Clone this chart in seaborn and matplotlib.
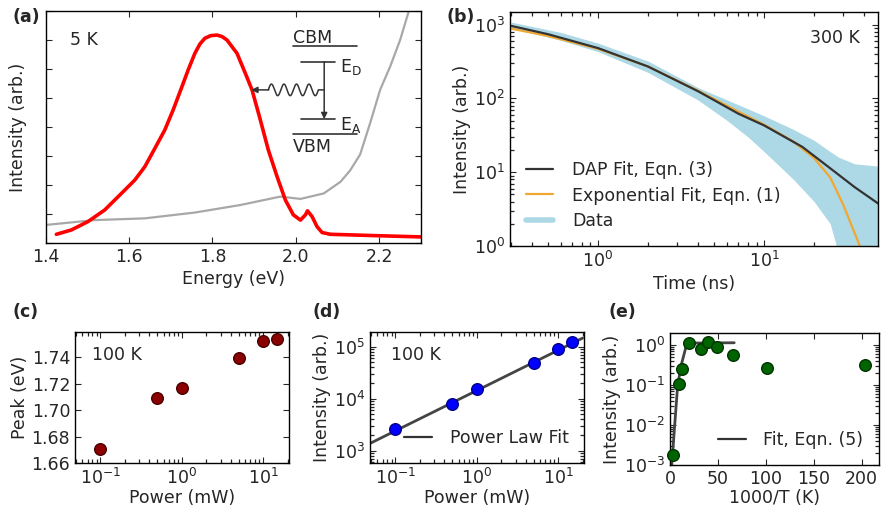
import numpy as np
import matplotlib.pyplot as plt
from matplotlib.lines import Line2D
from matplotlib.ticker import FixedLocator, NullFormatter
import seaborn as sns

# (a) PL spectrum at 5 K and absorption background
pl_energy = [1.426, 1.462, 1.502, 1.542, 1.582, 1.614, 1.638, 1.662, 1.686, 1.706,
             1.727, 1.742, 1.758, 1.770, 1.782, 1.796, 1.811, 1.823, 1.835, 1.859,
             1.879, 1.895, 1.915, 1.934, 1.955, 1.975, 1.994, 2.011, 2.023, 2.028,
             2.039, 2.051, 2.063, 2.083, 2.107, 2.200, 2.300]
pl_intensity = [0.30, 0.45, 0.74, 1.14, 1.71, 2.17, 2.63, 3.26, 3.90, 4.59,
                5.39, 5.97, 6.54, 6.86, 7.06, 7.15, 7.17, 7.12, 7.00, 6.54,
                5.85, 5.28, 4.24, 3.21, 2.29, 1.48, 0.97, 0.79, 0.97, 1.11,
                0.91, 0.56, 0.36, 0.30, 0.29, 0.25, 0.21]
abs_energy = [1.399, 1.518, 1.638, 1.758, 1.867, 1.963, 2.011, 2.067, 2.107, 2.130,
              2.154, 2.178, 2.202, 2.226, 2.250, 2.274]
abs_intensity = [0.62, 0.79, 0.85, 1.05, 1.31, 1.60, 1.52, 1.71, 2.11, 2.50,
                 3.05, 4.13, 5.28, 6.08, 7.00, 8.15]

# (b) time resolved PL at 300 K
dap_time = [0.3, 0.5, 1, 2, 4, 7, 10, 17, 25, 35, 50]
dap_fit = [960, 740, 480, 270, 125, 62, 43, 22, 11.3, 6.3, 3.6]
exp_time = [0.3, 0.5, 1, 2, 4, 7, 10, 15, 20, 25, 30, 33, 36, 38]
exp_fit = [880, 700, 470, 270, 127, 66, 44, 26, 15.5, 8.5, 3.6, 2.1, 1.3, 0.95]
data_time = [0.3, 0.6, 1, 2, 4, 6, 8, 10, 15, 20, 25, 28, 35, 50]
data_high = [1080, 780, 560, 320, 140, 95, 72, 58, 38, 27, 19, 16, 13, 12]
data_low = [900, 610, 430, 225, 95, 50, 30, 19, 8, 4, 2, 0.8, 0.8, 0.8]

# (c), (d) power dependence at 100 K
power_mw = [0.1, 0.5, 1.0, 5.0, 10.0, 15.0]
peak_ev = [1.6705, 1.7095, 1.717, 1.739, 1.752, 1.754]
power_int = [2600, 7800, 15000, 49000, 90000, 120000]
fit_power = [0.05, 20]
fit_power_int = [1400, 145000]

# (e) temperature dependence
inv_temp = [3.5, 9.4, 12.2, 19.8, 32, 39.2, 49.3, 65.3, 101.6, 203.5]
temp_int = [0.0018, 0.106, 0.25, 1.1, 0.81, 1.19, 0.9, 0.55, 0.27, 0.31]
fit_inv_temp = [1.8, 8, 12.2, 17.4, 20, 67]
fit_temp_int = [0.001, 0.1, 0.35, 1.05, 1.12, 1.14]

sns.set_style("ticks")
plt.rcParams.update({
    "font.family": ["DejaVu Sans"],
    "font.size": 12.5,
    "xtick.direction": "in", "ytick.direction": "in",
    "xtick.top": True, "ytick.right": True,
    "xtick.major.size": 4.5, "ytick.major.size": 4.5,
    "xtick.minor.size": 3.0, "ytick.minor.size": 3.0,
    "xtick.minor.width": 0.9, "ytick.minor.width": 0.9,
    "axes.linewidth": 1.0,
    "axes.edgecolor": "black",
    "mathtext.default": "regular",
})

W, H = 882, 516
fig = plt.figure(figsize=(W / 100, H / 100), dpi=100)


def box(l, t, r, b):
    return [l / W, 1 - b / H, (r - l) / W, (b - t) / H]


def log_minor(axis, lo, hi):
    # minor ticks at 2..9 x 10^n inside the limits
    ticks = np.outer(10.0 ** np.arange(-4, 7), np.arange(2, 10)).ravel()
    ticks = ticks[(ticks > lo) & (ticks < hi)]
    axis.set_minor_locator(FixedLocator(ticks))
    axis.set_minor_formatter(NullFormatter())


# ---- (a)
ax = fig.add_axes(box(45.5, 11, 421, 243))
sns.lineplot(x=abs_energy, y=abs_intensity, ax=ax, color="#a8a8a8", lw=1.6)
sns.lineplot(x=pl_energy, y=pl_intensity, ax=ax, color="red", lw=2.6)
ax.set_xlim(1.4, 2.3)
ax.set_ylim(0, 8)
ax.set_xticks([1.4, 1.6, 1.8, 2.0, 2.2])
ax.set_yticks(range(9))
ax.set_yticklabels([])
ax.set_xlabel("Energy (eV)", labelpad=3)
ax.set_ylabel("Intensity (arb.)", labelpad=10)
ax.text(0.066, 0.875, "5 K", transform=ax.transAxes, va="center")

# band diagram
dc = "#333333"
ax.plot([1.993, 2.147], [6.79, 6.79], color=dc, lw=1.2)
ax.plot([2.012, 2.094], [6.25, 6.25], color=dc, lw=1.2)
ax.plot([2.012, 2.094], [4.27, 4.27], color=dc, lw=1.2)
ax.plot([1.993, 2.147], [3.76, 3.76], color=dc, lw=1.2)
ax.text(1.993, 7.07, "CBM", va="center", ha="left")
ax.text(1.993, 3.32, "VBM", va="center", ha="left")
ax.text(2.105, 6.08, "E$_{\\mathrm{D}}$", va="center", ha="left")
ax.text(2.105, 4.07, "E$_{\\mathrm{A}}$", va="center", ha="left")
ax.annotate("", xy=(2.068, 4.27), xytext=(2.068, 6.25),
            arrowprops=dict(arrowstyle="-|>", color=dc, lw=1.1,
                            mutation_scale=9, shrinkA=0, shrinkB=0))
wx = np.linspace(1.934, 2.054, 200)
wy = 5.28 + 0.2 * np.sin((wx - 1.934) / 0.12 * 4 * 2 * np.pi)
ax.plot(np.r_[wx, 2.068], np.r_[wy, 5.28], color=dc, lw=1.1)
ax.annotate("", xy=(1.893, 5.28), xytext=(1.935, 5.28),
            arrowprops=dict(arrowstyle="-|>", color=dc, lw=1.1,
                            mutation_scale=9, shrinkA=0, shrinkB=0))

# ---- (b)
ax = fig.add_axes(box(510, 12, 878, 246))
ax.fill_between(data_time, data_low, data_high, color="#add8e6", lw=0)
sns.lineplot(x=exp_time, y=exp_fit, ax=ax, color="#f0a830", lw=1.6)
sns.lineplot(x=dap_time, y=dap_fit, ax=ax, color="#333333", lw=1.6)
ax.set_xscale("log")
ax.set_yscale("log")
ax.set_xlim(0.295, 48.5)
ax.set_ylim(1, 1480)
log_minor(ax.xaxis, 0.295, 48.5)
log_minor(ax.yaxis, 1, 1480)
ax.set_xlabel("Time (ns)", labelpad=3)
ax.set_ylabel("Intensity (arb.)", labelpad=2)
ax.text(0.95, 0.89, "300 K", transform=ax.transAxes, va="center", ha="right")
handles = [Line2D([], [], color="#333333", lw=1.6),
           Line2D([], [], color="#f0a830", lw=1.6),
           Line2D([], [], color="#add8e6", lw=4)]
ax.legend(handles, ["DAP Fit, Eqn. (3)", "Exponential Fit, Eqn. (1)", "Data"],
          loc="lower left", frameon=False, handlelength=1.6, handletextpad=1.1,
          labelspacing=0.45, bbox_to_anchor=(0.0, 0.0))

# ---- (c)
ax = fig.add_axes(box(75, 332, 289, 463))
sns.scatterplot(x=power_mw, y=peak_ev, ax=ax, color="#8b0000", s=70,
                edgecolor="#4a0000", linewidth=1.0, zorder=3)
ax.set_xscale("log")
ax.set_xlim(0.049, 20.8)
ax.set_ylim(1.66, 1.759)
log_minor(ax.xaxis, 0.049, 20.8)
ax.set_yticks([1.66, 1.68, 1.70, 1.72, 1.74])
ax.set_xlabel("Power (mW)", labelpad=1)
ax.set_ylabel("Peak (eV)", labelpad=2)
ax.text(0.079, 0.824, "100 K", transform=ax.transAxes, va="center")

# ---- (d)
ax = fig.add_axes(box(370, 332, 584, 463))
sns.lineplot(x=fit_power, y=fit_power_int, ax=ax, color="#444444", lw=2)
sns.scatterplot(x=power_mw, y=power_int, ax=ax, color="blue", s=70,
                edgecolor="#00008b", linewidth=1.0, zorder=3)
ax.set_xscale("log")
ax.set_yscale("log")
ax.set_xlim(0.049, 20.8)
ax.set_ylim(580, 1.9e5)
log_minor(ax.xaxis, 0.049, 20.8)
log_minor(ax.yaxis, 580, 1.9e5)
ax.set_xlabel("Power (mW)", labelpad=1)
ax.set_ylabel("Intensity (arb.)", labelpad=2)
ax.text(0.098, 0.824, "100 K", transform=ax.transAxes, va="center")
ax.legend([Line2D([], [], color="#333333", lw=1.6)], ["Power Law Fit"],
          loc="lower right", frameon=False, handlelength=1.6, handletextpad=1.0)

# ---- (e)
ax = fig.add_axes(box(670, 333, 879, 465))
sns.lineplot(x=fit_inv_temp, y=fit_temp_int, ax=ax, color="#444444", lw=2)
sns.scatterplot(x=inv_temp, y=temp_int, ax=ax, color="#006400", s=70,
                edgecolor="#003300", linewidth=1.0, zorder=3, clip_on=False)
ax.set_yscale("log")
ax.set_xlim(0, 218)
ax.set_ylim(1e-3, 2)
log_minor(ax.yaxis, 1e-3, 2)
ax.set_xticks([0, 50, 100, 150, 200])
ax.set_xlabel("1000/T (K)", labelpad=1)
ax.set_ylabel("Intensity (arb.)", labelpad=2)
ax.legend([Line2D([], [], color="#333333", lw=1.6)], ["Fit, Eqn. (5)"],
          loc="lower right", frameon=False, handlelength=1.6, handletextpad=1.0)

for lab, x, y in [("(a)", 12, 17), ("(b)", 447, 17), ("(c)", 12, 312),
                  ("(d)", 313, 312), ("(e)", 608, 312)]:
    fig.text(x / W, 1 - y / H, lab, fontweight="bold", va="center", ha="left")

fig.savefig("out.png", dpi=100)
